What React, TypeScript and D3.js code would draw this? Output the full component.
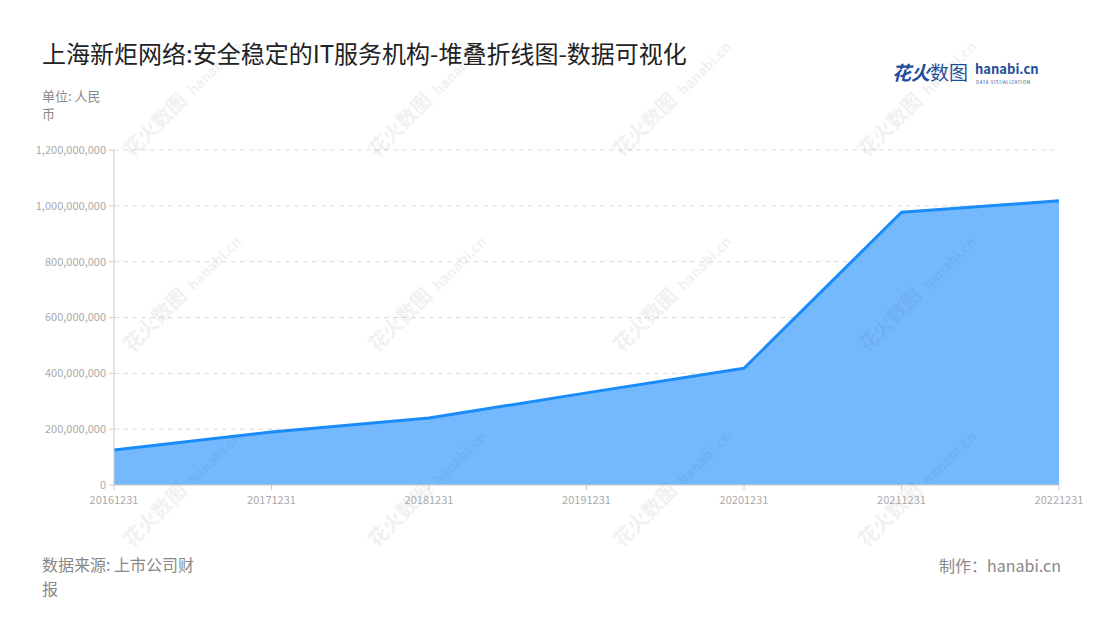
import React from "react";
import * as d3 from "d3";

const categories = ["20161231", "20171231", "20181231", "20191231", "20201231", "20211231", "20221231"];
const values = [125000000, 190000000, 240000000, 330000000, 418000000, 977000000, 1018000000];
const yTicks = [0, 200000000, 400000000, 600000000, 800000000, 1000000000, 1200000000];

const W = 1100, H = 620;
const M = { left: 114, right: 1059, top: 150, bottom: 485 };
const FONT = "'Noto Sans CJK SC', 'Noto Sans', sans-serif";

export default function App() {
  const x = d3.scalePoint<string>().domain(categories).range([M.left, M.right]);
  const y = d3.scaleLinear().domain([0, 1200000000]).range([M.bottom, M.top]);
  const data = categories.map((c, i) => ({ c, v: values[i] }));
  const area = d3.area<{ c: string; v: number }>().x(d => x(d.c)!).y0(y(0)).y1(d => y(d.v));
  const line = d3.line<{ c: string; v: number }>().x(d => x(d.c)!).y(d => y(d.v));
  const fmt = d3.format(",");

  const wmX = [160, 405, 650, 895];
  const wmY = [130, 325, 520];

  return (
    <svg width={W} height={H} style={{ position: "absolute", left: 0, top: 0, fontFamily: FONT }}>
      <rect width={W} height={H} fill="#fff" />
      <text x={42} y={63} fontSize={24} fill="#222">上海新炬网络:安全稳定的IT服务机构-堆叠折线图-数据可视化</text>
      <text x={42} y={101} fontSize={13} fill="#888">单位: 人民</text>
      <text x={42} y={119} fontSize={13} fill="#888">币</text>

      {/* logo */}
      <g>
        <text x={892} y={80} fontSize={19} fontWeight={700} fill="#1f4e9c" fontStyle="italic">花火</text>
        <text x={930} y={80} fontSize={19} fill="#1f4e9c">数图</text>
        <text x={975} y={74} fontSize={13} fontWeight={700} fill="#1f4e9c">hanabi.cn</text>
        <text x={976} y={84} fontSize={4.5} fill="#1f4e9c" letterSpacing={0.6}>DATA VISUALIZATION</text>
      </g>

      {/* grid */}
      {yTicks.filter(t => t > 0).map(t => (
        <line key={t} x1={M.left} x2={M.right} y1={y(t)} y2={y(t)} stroke="#ddd" strokeDasharray="5,4" />
      ))}

      <path d={area(data)!} fill="#74b9fe" />
      <path d={line(data)!} fill="none" stroke="#1a8cfa" strokeWidth={3} strokeLinejoin="round" />

      {/* watermarks */}
      {wmX.map(wx => wmY.map(wy => (
        <g key={wx + "-" + wy} transform={`translate(${wx},${wy}) rotate(-45)`} opacity={0.08}>
          <text x={-40} y={0} fontSize={20} fontWeight={700} fill="#555">花火数图</text>
          <text x={48} y={0} fontSize={14} fontWeight={700} fill="#555">hanabi.cn</text>
        </g>
      )))}

      {/* y axis */}
      <line x1={M.left} x2={M.left} y1={M.top} y2={M.bottom} stroke="#ccc" />
      {yTicks.map(t => (
        <g key={t}>
          <line x1={M.left - 5} x2={M.left} y1={y(t)} y2={y(t)} stroke="#ccc" />
          <text x={M.left - 8} y={y(t)} dy="0.35em" textAnchor="end" fontSize={11} fill="#aaa">{fmt(t)}</text>
        </g>
      ))}

      {/* x axis */}
      <line x1={M.left} x2={M.right} y1={M.bottom} y2={M.bottom} stroke="#ccc" />
      {categories.map(c => (
        <g key={c}>
          <line x1={x(c)!} x2={x(c)!} y1={M.bottom} y2={M.bottom + 5} stroke="#ccc" />
          <text x={x(c)!} y={M.bottom + 19} textAnchor="middle" fontSize={11} fill="#aaa">{c}</text>
        </g>
      ))}

      <text x={42} y={571} fontSize={16} fill="#888">数据来源: 上市公司财</text>
      <text x={42} y={595} fontSize={16} fill="#888">报</text>
      <text x={1061} y={572} fontSize={16} fill="#888" textAnchor="end">制作：hanabi.cn</text>
    </svg>
  );
}
